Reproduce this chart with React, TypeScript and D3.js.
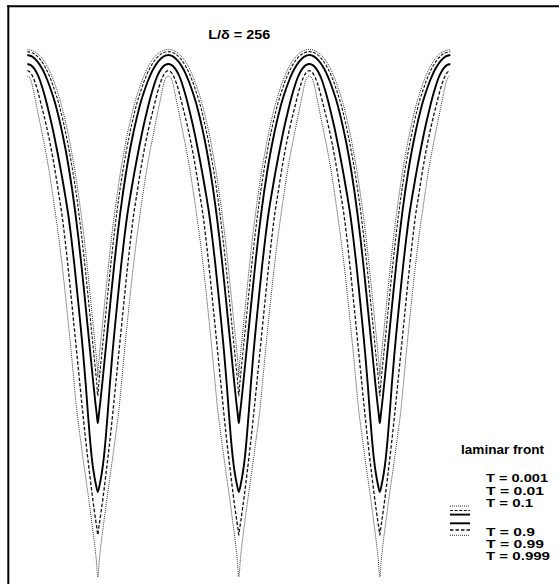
import React from "react";
import * as d3 from "d3";

const WIDTH = 559;
const HEIGHT = 584;
const WAVELENGTH = 141; // data units per period of the front
const PERIODS = 3;

const titleText = "L/δ = 256";
const legendTitle = "laminar front";
const levelLabels = ["T = 0.001", "T = 0.01", "T = 0.1", "T = 0.9", "T = 0.99", "T = 0.999"];

// half-period profiles [distance from crest, depth]
const profileT0001 = [[0,49.4],[8,51.9],[14.4,57.8],[20,66.4],[25.2,77.9],[29.3,89.2],[32.9,100.5],[35.4,110],[38.5,123],[41.5,136.8],[44.5,153],[47.5,170],[50.5,190],[53.5,211.7],[56.6,236],[59.6,263.4],[62.6,292.5],[65.6,322.4],[68.6,352.4],[69.8,365],[70.5,377]];
const profileT001 = [[0,51.6],[6.8,53.7],[12.65,59.2],[18,67.4],[23.2,78.7],[27.2,90],[30.8,101.1],[33.3,110.6],[36.3,123.2],[39.3,137.3],[42.3,152.9],[45.35,170.4],[48.4,190],[51.4,212],[54.4,236.6],[57.4,263.6],[60.4,292.6],[63.4,322.7],[66.4,352.7],[69.4,382.7],[70.5,396]];
const profileT01 = [[0,55],[5,56.6],[10,61.3],[15,69],[20,80],[24,91],[27.5,102],[30,111.5],[33,124],[36,138],[39,153.5],[42,171],[45,190.5],[48,212.5],[51,237],[54,264],[57,293],[60,323],[63,353],[66,383],[68,402],[69.5,415],[70.5,423]];
const profileT09 = [[0,64],[3,64.9],[6,67.5],[9,72],[12,78.5],[15,87.5],[18.3,99],[21.5,112],[25,127],[28.5,144],[32,162],[35,178.5],[38,196],[41,215],[44,238],[47,264],[50,293],[53,323],[56,355],[58.5,385],[60.5,412],[62.5,437],[64.5,458],[66.5,473],[68.5,484],[70.5,492]];
const profileT099 = [[0,70.7],[2,71.5],[4,73.8],[6,77.8],[8,83],[10.7,92],[14,105],[16.5,115.1],[19.4,127.3],[22.3,140.9],[25.25,156.2],[28.2,173.4],[31.2,192.6],[34.6,214.3],[37.6,238.6],[40.6,265.5],[43.6,294.4],[46.6,324.3],[49.6,354.3],[52.6,384.3],[55.2,410],[57.7,434],[60.2,456],[62.6,476],[64.8,494],[66.8,509],[68.5,521],[69.7,529],[70.5,535]];
const profileT0999 = [[0,76],[1.5,76.7],[3,78.8],[4.3,82.5],[5.5,87.5],[6.7,93.5],[8,100],[10.7,113],[13.5,127],[16.4,141.5],[19.4,157],[22.3,174],[25.2,193],[28.2,214],[31.5,238],[34.8,265],[38,294],[41,323],[44,353],[46.8,383],[49.4,410],[52.2,432],[55,453],[58.2,476],[61.3,498],[64.2,520],[66.8,540],[68.9,559],[70.5,577]];

const profiles = [profileT0001, profileT001, profileT01, profileT09, profileT099, profileT0999];

const lineStyles = [
  { dash: "1 1", width: 0.9, color: "#222" },
  { dash: "3 1.6", width: 1.1, color: "#111" },
  { dash: "", width: 1.9, color: "#000" },
  { dash: "", width: 1.9, color: "#000" },
  { dash: "3.5 2", width: 1.3, color: "#111" },
  { dash: "1 1", width: 0.9, color: "#222" },
];

function buildFront(profile: number[][]): [number, number][] {
  const pts: [number, number][] = [];
  for (let k = 0; k < PERIODS; k++) {
    const x0 = k * WAVELENGTH;
    profile.forEach(([hw, y], i) => {
      if (k > 0 && i === 0) return;
      pts.push([x0 + hw, y]);
    });
    for (let i = profile.length - 2; i >= 0; i--) {
      pts.push([x0 + WAVELENGTH - profile[i][0], profile[i][1]]);
    }
  }
  return pts;
}

export default function App() {
  const xScale = d3.scaleLinear().domain([0, PERIODS * WAVELENGTH]).range([27.3, 450.3]);
  const yScale = d3.scaleLinear().domain([0, HEIGHT]).range([0, HEIGHT]);
  const line = d3
    .line<[number, number]>()
    .x((d) => xScale(d[0]))
    .y((d) => yScale(d[1]))
    .curve(d3.curveCatmullRom.alpha(0.5));

  const font = "'Liberation Sans', Arial, Helvetica, sans-serif";
  const labelBaselines = [482, 494.5, 507.3, 536, 548.3, 560.3];
  const labelWidths = [62, 58, 47, 49, 58, 64];
  const sampleY = [506, 510.5, 514.6, 523.3, 530, 535.3];

  return (
    <svg
      width={WIDTH}
      height={HEIGHT}
      style={{ position: "absolute", left: 0, top: 0, background: "#fff" }}
    >
      <rect x={0} y={0} width={WIDTH} height={HEIGHT} fill="#fff" />
      <line x1={7.3} y1={6.3} x2={WIDTH} y2={6.3} stroke="#000" strokeWidth={2} />
      <line x1={8.3} y1={5.3} x2={8.3} y2={HEIGHT} stroke="#000" strokeWidth={2} />
      {profiles.map((p, i) => (
        <path
          key={i}
          d={line(buildFront(p)) || ""}
          fill="none"
          stroke={lineStyles[i].color}
          strokeWidth={lineStyles[i].width}
          strokeDasharray={lineStyles[i].dash || undefined}
        />
      ))}
      <text
        x={208.3}
        y={39}
        fontFamily={font}
        fontWeight="bold"
        fontSize={12}
        textLength={62}
        lengthAdjust="spacingAndGlyphs"
      >
        {titleText}
      </text>
      <text
        x={461}
        y={454}
        fontFamily={font}
        fontWeight="bold"
        fontSize={12}
        textLength={83}
        lengthAdjust="spacingAndGlyphs"
      >
        {legendTitle}
      </text>
      {levelLabels.map((lab, i) => (
        <text
          key={lab}
          x={486}
          y={labelBaselines[i]}
          fontFamily={font}
          fontWeight="bold"
          fontSize={11}
          textLength={labelWidths[i]}
          lengthAdjust="spacingAndGlyphs"
        >
          {lab}
        </text>
      ))}
      {levelLabels.map((lab, i) => (
        <line
          key={"s" + lab}
          x1={450}
          x2={470}
          y1={sampleY[i]}
          y2={sampleY[i]}
          stroke={lineStyles[i].color}
          strokeWidth={lineStyles[i].width}
          strokeDasharray={lineStyles[i].dash || undefined}
        />
      ))}
    </svg>
  );
}
